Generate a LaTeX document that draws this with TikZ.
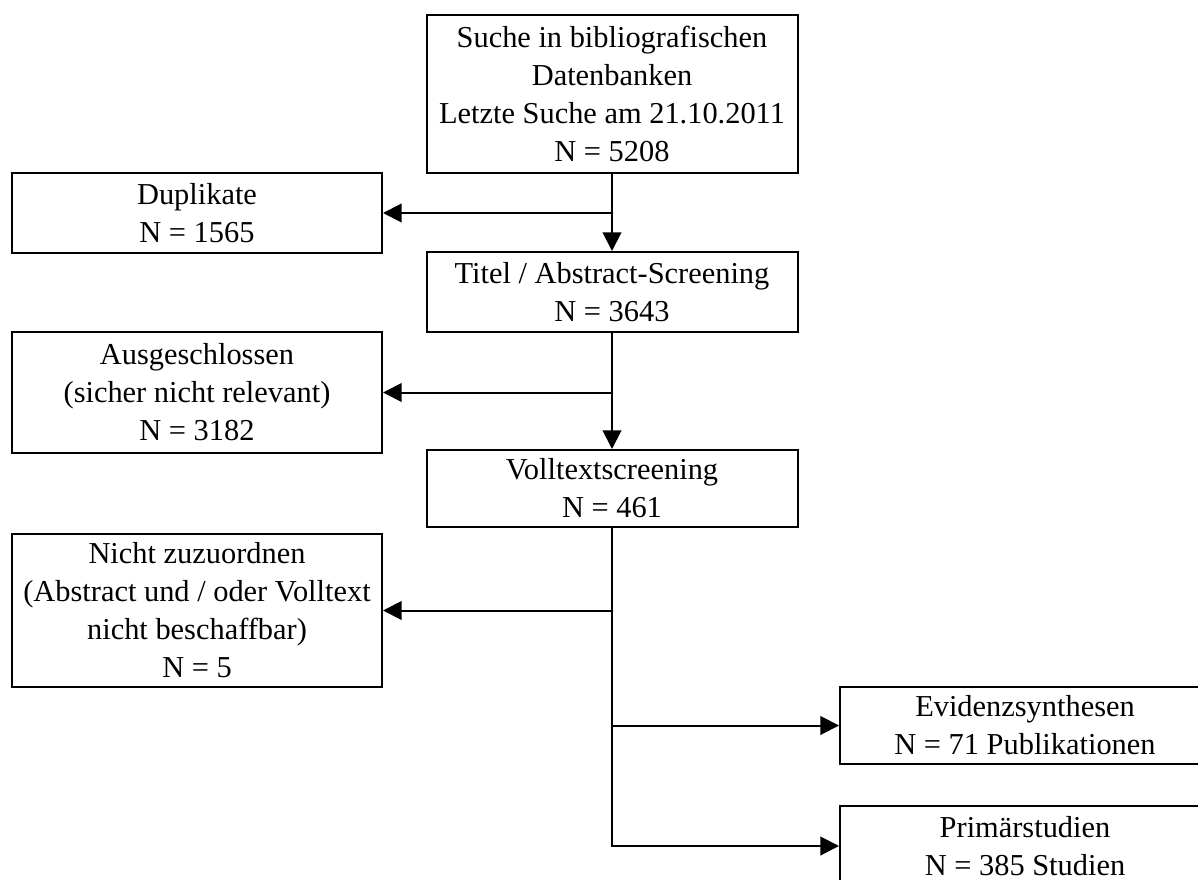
\documentclass[tikz,border=0pt]{standalone}
\usepackage{fontspec}
\setmainfont{Liberation Serif}
\usetikzlibrary{arrows.meta}
\begin{document}
\begin{tikzpicture}[x=0.75pt,y=-0.75pt,
  box/.style={draw,line width=1.5pt,inner sep=0pt,align=center,
    font=\fontsize{22.8}{28.5}\selectfont,minimum width=277.5pt},
  arr/.style={line width=1.5pt,-{Triangle[length=14pt,width=14pt]}}]
\useasboundingbox (0,0) rectangle (1198,880);
\clip (0,0) rectangle (1198,880);
\node[box,minimum width=278.25pt,minimum height=118.5pt] (top) at (612,94)
  {Suche in bibliografischen\\Datenbanken\\Letzte Suche am 21.10.2011\\N = 5208};
\node[box,minimum height=60pt] (dup) at (197,213) {Duplikate\\N = 1565};
\node[box,minimum width=278.25pt,minimum height=60pt] (tit) at (612,292)
  {Titel / Abstract-Screening\\N = 3643};
\node[box,minimum height=90.75pt] (aus) at (197,392.5)
  {Ausgeschlossen\\(sicher nicht relevant)\\N = 3182};
\node[box,minimum width=278.25pt,minimum height=57.75pt] (vol) at (612,488.5)
  {Volltextscreening\\N = 461};
\node[box,minimum height=114.75pt] (nic) at (197,610.5)
  {Nicht zuzuordnen\\(Abstract und / oder Volltext\\nicht beschaffbar)\\N = 5};
\node[box,minimum height=57.75pt] (evi) at (1025,725.5)
  {Evidenzsynthesen\\N = 71 Publikationen};
\node[box,minimum height=60pt] (pri) at (1025,846)
  {Primärstudien\\N = 385 Studien};
\draw[arr] (top.south) -- (tit.north);
\draw[arr] (top.south |- dup.east) -- (dup.east);
\draw[arr] (tit.south) -- (vol.north);
\draw[arr] (tit.south |- aus.east) -- (aus.east);
\draw[arr] (vol.south) |- (pri.west);
\draw[arr] (vol.south |- nic.east) -- (nic.east);
\draw[arr] (vol.south |- evi.west) -- (evi.west);
\end{tikzpicture}
\end{document}
